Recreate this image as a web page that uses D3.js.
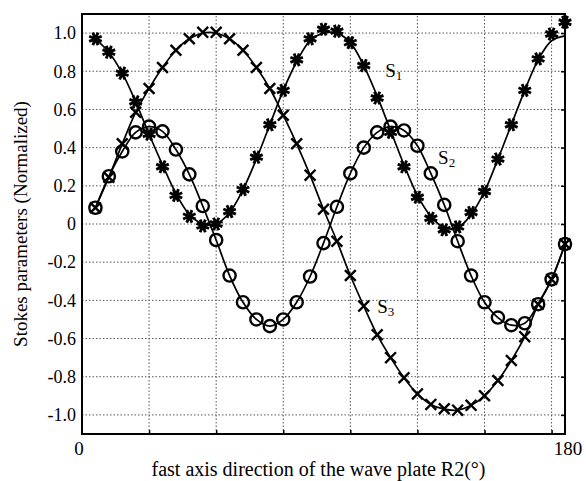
<!DOCTYPE html>
<html><head><meta charset="utf-8">
<script src="https://cdn.jsdelivr.net/npm/d3@7"></script>
<style>body{margin:0;background:#fff}svg{display:block}</style>
</head><body><div id="chart"></div>
<script>
const angles = d3.range(5, 181, 5);
const s1 = [0.97,0.90,0.79,0.64,0.47,0.30,0.15,0.04,-0.01,0.0,0.065,0.18,0.35,0.52,0.70,0.86,0.97,1.02,1.01,0.95,0.83,0.66,0.48,0.30,0.14,0.03,-0.03,-0.015,0.06,0.17,0.34,0.52,0.70,0.865,0.995,1.057];
const s2 = [0.085,0.25,0.38,0.48,0.51,0.485,0.39,0.26,0.094,-0.084,-0.27,-0.41,-0.50,-0.535,-0.50,-0.41,-0.275,-0.10,0.09,0.265,0.40,0.48,0.51,0.49,0.41,0.265,0.10,-0.09,-0.27,-0.41,-0.49,-0.53,-0.52,-0.42,-0.29,-0.105];
const s3 = [0.085,0.245,0.42,0.585,0.71,0.82,0.91,0.97,1.004,1.004,0.97,0.91,0.82,0.71,0.57,0.42,0.256,0.077,-0.09,-0.27,-0.43,-0.58,-0.70,-0.805,-0.89,-0.945,-0.968,-0.975,-0.95,-0.90,-0.82,-0.715,-0.59,-0.42,-0.29,-0.105];
const s1Fit = [0.97,0.90,0.79,0.64,0.47,0.31,0.16,0.05,0.0,0.0,0.06,0.18,0.34,0.52,0.70,0.85,0.96,1.0,1.0,0.95,0.83,0.67,0.49,0.31,0.15,0.04,-0.02,-0.02,0.05,0.17,0.34,0.52,0.70,0.86,0.96,0.985];
const s2Fit = s2;
const s3Fit = [0.085,0.245,0.42,0.585,0.71,0.82,0.91,0.97,1.0,1.0,0.97,0.91,0.82,0.71,0.57,0.42,0.256,0.077,-0.09,-0.27,-0.43,-0.58,-0.70,-0.805,-0.89,-0.945,-0.97,-0.975,-0.95,-0.90,-0.82,-0.715,-0.59,-0.42,-0.29,-0.105];
const yTicks = [1.0,0.8,0.6,0.4,0.2,0,-0.2,-0.4,-0.6,-0.8,-1.0];
const yTickLabels = ["1.0","0.8","0.6","0.4","0.2","0","-0.2","-0.4","-0.6","-0.8","-1.0"];
const xGrid = [25,50,75,100,125,150,175];
const xTickLabels = [{v:0,t:"0"},{v:180,t:"180"}];
const seriesLabels = [{n:"1",x:113,y:0.768},{n:"2",x:132.7,y:0.315},{n:"3",x:110,y:-0.465}];

const W=586,H=481,m={l:82,t:14,r:21,b:47};
const svg=d3.select("#chart").append("svg").attr("width",W).attr("height",H);
const x=d3.scaleLinear().domain([0,180]).range([m.l,W-m.r]);
const y=d3.scaleLinear().domain([-1.1,1.1]).range([H-m.b,m.t]);
const font="Liberation Serif, Times New Roman, serif";

// grid
const g=svg.append("g");
g.selectAll(".hg").data(yTicks).join("line").attr("x1",x(0)).attr("x2",x(180))
 .attr("y1",d=>y(d)).attr("y2",d=>y(d)).attr("stroke","#555").attr("stroke-width",1).attr("stroke-dasharray","1.5,2");
g.selectAll(".vg").data(xGrid).join("line").attr("y1",y(-1.1)).attr("y2",y(1.1))
 .attr("x1",d=>x(d)).attr("x2",d=>x(d)).attr("stroke","#555").attr("stroke-width",1).attr("stroke-dasharray","1.5,2");

// axes via d3
const yAxis=d3.axisLeft(y).tickValues(yTicks).tickSize(0).tickPadding(6).tickFormat((d,i)=>yTickLabels[i]);
const ya=svg.append("g").attr("transform",`translate(${m.l},0)`).call(yAxis);
ya.select(".domain").remove();
ya.selectAll("text").attr("font-family",font).attr("font-size",18).attr("fill","#000");
const yr=svg.append("g").attr("transform",`translate(${W-m.r},0)`).call(d3.axisLeft(y).tickValues(yTicks).tickSize(4).tickFormat(""));
yr.select(".domain").remove(); yr.selectAll("line").attr("stroke","#000").attr("stroke-width",1.5);
const xb=svg.append("g").attr("transform",`translate(0,${H-m.b})`).call(d3.axisTop(x).tickValues(xGrid).tickSize(4).tickFormat(""));
xb.select(".domain").remove(); xb.selectAll("line").attr("stroke","#000").attr("stroke-width",1.5);
svg.selectAll(".xl").data(xTickLabels).join("text").attr("x",d=>x(d.v)+(d.v===0?-3:3)).attr("y",H-m.b+21)
 .attr("text-anchor","middle").attr("font-family",font).attr("font-size",19).text(d=>d.t);

// frame
svg.append("rect").attr("x",x(0)).attr("y",y(1.1)).attr("width",x(180)-x(0)).attr("height",y(-1.1)-y(1.1))
 .attr("fill","none").attr("stroke","#000").attr("stroke-width",2);

// lines
const line=d3.line().x((d,i)=>x(angles[i])).y(d=>y(d)).curve(d3.curveCatmullRom.alpha(0.5));
[s1Fit,s2Fit,s3Fit].forEach(s=>svg.append("path").attr("d",line(s)).attr("fill","none").attr("stroke","#000").attr("stroke-width",1.7));

// markers
const st=svg.append("g").attr("stroke","#000").attr("fill","none");
const r=6.8;
st.selectAll(".st").data(s1).join("path").attr("stroke-width",2.9)
 .attr("d",(d,i)=>{const cx=x(angles[i]),cy=y(d);let p="";for(let k=0;k<4;k++){const a=k*Math.PI/4+Math.PI/8;p+=`M${cx-r*Math.cos(a)},${cy-r*Math.sin(a)}L${cx+r*Math.cos(a)},${cy+r*Math.sin(a)}`;}return p;});
st.selectAll(".ci").data(s2).join("circle").attr("cx",(d,i)=>x(angles[i])).attr("cy",d=>y(d)).attr("r",6.1).attr("stroke-width",2.4);
const q=5.4;
st.selectAll(".cr").data(s3).join("path").attr("stroke-width",2.4)
 .attr("d",(d,i)=>{const cx=x(angles[i]),cy=y(d);return `M${cx-q},${cy-q}L${cx+q},${cy+q}M${cx-q},${cy+q}L${cx+q},${cy-q}`;});

// series labels
seriesLabels.forEach(l=>{
  const t=svg.append("text").attr("x",x(l.x)).attr("y",y(l.y)).attr("font-family",font).attr("font-size",19);
  t.append("tspan").text("S");
  t.append("tspan").attr("font-size",13).attr("dy",3).text(l.n);
});

// axis titles
svg.append("text").attr("x",(x(0)+x(180))/2-5).attr("y",H-5).attr("text-anchor","middle")
 .attr("font-family",font).attr("font-size",20).text("fast axis direction of the wave plate R2(°)");
svg.append("text").attr("transform",`translate(27,${y(0)}) rotate(-90)`).attr("text-anchor","middle")
 .attr("font-family",font).attr("font-size",19).text("Stokes parameters (Normalized)");
</script></body></html>
